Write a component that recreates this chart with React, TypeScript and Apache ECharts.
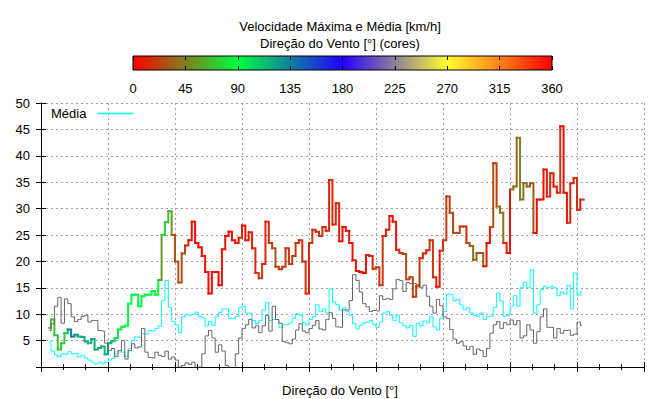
import React, { useEffect, useRef } from "react";
import * as echarts from "echarts";

const FONT = "'Liberation Sans', Arial, sans-serif";

const TITLE = "Velocidade Máxima e Média [km/h]";
const SUBTITLE = "Direção do Vento [°] (cores)";
const BOTTOM_TITLE = "Direção do Vento [°]";
const MEAN_NAME = "Média";

// sampling: minutes from start of the x range
const START_MIN = 7.5;
const STEP_MIN = 3;

const maxSpeed = [
  7.4, 9.0, 6.0, 3.3, 4.5, 6.4, 7.1, 5.8, 6.1, 5.8,
  5.7, 4.9, 4.5, 5.3, 3.3, 3.6, 3.9, 2.4, 4.5, 4.9,
  5.5, 7.1, 7.6, 7.8, 12.0, 13.7, 13.7, 11.5, 13.4, 13.7,
  13.7, 14.4, 13.7, 16.5, 25.0, 27.4, 29.5, 25.0, 20.0, 16.0,
  21.5, 23.0, 24.0, 27.5, 23.5, 22.7, 21.0, 18.0, 13.9, 18.0,
  18.0, 15.5, 22.3, 24.8, 25.6, 24.0, 23.5, 24.5, 26.8, 24.0,
  25.5, 22.5, 17.8, 16.8, 19.5, 27.5, 23.5, 22.5, 19.0, 18.5,
  19.0, 22.5, 19.5, 21.0, 23.5, 24.0, 20.0, 13.9, 23.5, 26.0,
  25.6, 24.8, 26.5, 25.8, 35.4, 27.0, 31.0, 23.8, 26.5, 25.8,
  23.5, 20.2, 18.2, 18.0, 17.8, 21.2, 21.0, 18.6, 18.9, 15.5,
  24.8, 26.0, 28.6, 27.5, 22.2, 21.6, 21.4, 16.6, 17.0, 13.3,
  15.3, 20.6, 21.5, 22.1, 24.0, 17.0, 15.2, 22.0, 24.0, 32.3,
  29.2, 25.4, 25.4, 26.6, 26.6, 23.5, 22.9, 20.3, 21.6, 21.6,
  19.1, 23.5, 26.5, 38.6, 30.4, 29.2, 23.5, 21.6, 33.6, 34.2,
  43.4, 31.7, 34.8, 34.2, 34.8, 25.4, 31.7, 31.7, 37.4, 32.3,
  36.7, 34.2, 33.0, 45.6, 33.0, 27.3, 34.8, 35.8, 29.8, 31.7,
];

const maxDir = [
  66, 68, 70, 72, 72, 110, 135, 135, 125, 118,
  118, 120, 115, 118, 120, 118, 115, 118, 120, 112,
  100, 95, 92, 90, 90, 91, 89, 90, 92, 90,
  88, 90, 91, 55, 75, 70, 55, 30, 28, 28,
  25, 10, 3, 2, 0, 2, 5, 3, 2, 4,
  3, 5, 6, 4, 2, 8, 10, 12, 5, 8,
  10, 15, 18, 20, 15, 12, 22, 30, 25, 22,
  20, 18, 22, 20, 18, 15, 14, 12, 18, 20,
  15, 18, 15, 12, 14, 12, 10, 6, 4, 3,
  5, 8, 2, 5, 3, 10, 12, 15, 18, 20,
  12, 10, 8, 6, 15, 22, 25, 28, 25, 22,
  20, 15, 12, 18, 20, 15, 5, 18, 22, 20,
  25, 30, 28, 15, 12, 30, 38, 35, 30, 32,
  8, 5, 28, 20, 40, 40, 10, 5, 38, 35,
  45, 40, 38, 35, 30, 5, 3, 5, 10, 15,
  8, 12, 18, 5, 8, 15, 12, 18, 10, 15,
];

const meanSpeed = [
  4.8, 3.0, 2.3, 1.9, 2.5, 2.4, 2.9, 2.5, 2.6, 1.9,
  2.2, 1.7, 1.3, 0.9, 0.6, 0.9, 0.6, 0.9, 1.3, 1.6,
  2.5, 3.1, 2.8, 2.0, 3.5, 5.0, 5.7, 5.6, 6.3, 6.2,
  6.9, 6.8, 7.3, 7.8, 12.6, 16.4, 11.3, 8.6, 8.0, 6.5,
  9.5, 10.0, 9.8, 10.0, 10.4, 9.6, 9.3, 7.8, 8.6, 7.9,
  9.5, 10.3, 11.0, 11.0, 9.2, 9.2, 9.6, 11.3, 11.5, 10.2,
  10.1, 8.8, 8.2, 8.8, 10.8, 12.2, 8.8, 9.0, 9.0, 7.5,
  8.0, 8.0, 8.3, 9.2, 10.1, 9.8, 8.4, 8.0, 9.0, 9.5,
  11.8, 10.5, 11.0, 10.2, 14.8, 12.3, 11.8, 10.8, 11.2, 10.5,
  9.8, 8.2, 7.2, 7.9, 8.3, 8.5, 8.8, 8.0, 7.5, 8.5,
  10.2, 10.5, 9.8, 8.8, 9.8, 8.4, 7.8, 7.4, 7.9, 5.8,
  8.3, 7.8, 8.7, 8.4, 9.5, 7.6, 7.0, 9.2, 10.5, 13.8,
  13.7, 12.6, 12.8, 11.8, 10.9, 11.2, 10.2, 9.8, 9.6, 10.2,
  9.0, 9.6, 9.6, 11.3, 14.0, 12.5, 9.6, 9.8, 11.5, 13.5,
  11.5, 15.0, 16.0, 15.0, 18.4, 10.2, 11.8, 14.6, 15.3, 15.0,
  15.3, 15.0, 13.5, 14.2, 13.8, 15.5, 11.0, 17.8, 13.6, 14.2,
];

const grayLine = [
  6.9, 8.2, 11.5, 13.2, 8.3, 12.9, 12.0, 9.5, 8.6, 9.0,
  9.6, 9.8, 8.5, 8.8, 8.8, 6.9, 6.8, 4.5, 3.1, 3.5,
  2.0, 3.1, 5.0, 1.5, 3.1, 4.4, 3.6, 3.8, 7.3, 2.8,
  1.8, 1.7, 2.8, 2.2, 2.0, 3.0, 1.5, 1.9, 1.3, 0.0,
  0.3, 0.8, 0.5, 0.9, -0.3, 0.0, 2.5, 5.9, 6.9, 5.5,
  2.8, 4.2, 3.0, 0.3, -0.6, -0.3, 2.5, 5.5, 7.3, 8.0,
  9.0, 7.4, 7.8, 6.5, 7.8, 9.8, 6.8, 11.5, 9.0, 8.3,
  4.8, 4.6, 4.4, 5.3, 7.0, 8.2, 6.8, 6.5, 7.3, 7.9,
  8.8, 7.2, 7.0, 9.0, 10.3, 9.2, 7.6, 7.5, 10.8, 10.8,
  12.6, 17.5, 16.4, 14.2, 12.0, 11.4, 10.5, 10.7, 10.6, 13.5,
  12.8, 13.0, 12.8, 14.8, 16.6, 16.4, 14.3, 16.0, 15.8, 15.8,
  15.6, 15.0, 15.5, 13.4, 11.5, 10.2, 12.8, 11.6, 9.5, 9.2,
  7.1, 5.3, 4.5, 4.8, 4.0, 3.3, 3.9, 2.4, 3.4, 3.1,
  2.0, 3.5, 6.4, 8.0, 8.6, 7.3, 8.4, 8.0, 8.9, 8.0,
  8.8, 5.5, 5.9, 8.0, 7.0, 4.5, 6.7, 9.5, 11.0, 7.5,
  7.5, 5.5, 7.3, 6.4, 6.9, 7.0, 6.0, 6.2, 8.5, 7.9,
];

// direction palette (0 → 360 degrees)
const dirPalette = ["#ff0000", "#00ff40", "#2000ff", "#ffff30", "#ff0000"];
const DIR_MIN = 0;
const DIR_MAX = 360;
const DIR_STEP = 45;

const X_MIN = 0;
const X_MAX = 540;
const X_STEP = 60;

const Y_MIN = 0;
const Y_MAX = 50;
const Y_STEP = 5;

const MEAN_COLOR = "#00ffff";
const GRAY_COLOR = "#646464";

const times = maxSpeed.map((_, i) => START_MIN + i * STEP_MIN);

function buildOption(): any {
  const txt = { color: "#000", fontFamily: FONT, fontSize: 13 };
  const grid = { lineStyle: { color: "#a0a0a0", width: 1, type: [2, 3] } };
  const axisLine = { show: true, lineStyle: { color: "#000", width: 1 } };
  const tick = { show: true, inside: true, length: 5, lineStyle: { color: "#000" } };

  return {
    animation: false,
    backgroundColor: "#fff",
    textStyle: { fontFamily: FONT },
    title: [
      { text: TITLE, left: 340, top: 20 },
      { text: SUBTITLE, left: 340, top: 37 },
      { text: BOTTOM_TITLE, left: 340, top: 384 },
    ].map((t) => ({
      ...t,
      padding: 0,
      textAlign: "center",
      textVerticalAlign: "top",
      textStyle: { ...txt, fontWeight: "normal" },
    })),
    legend: {
      data: [
        {
          name: MEAN_NAME,
          icon: "rect",
          itemStyle: { color: MEAN_COLOR, borderWidth: 0 },
        },
      ],
      left: 51,
      top: 107,
      padding: 0,
      itemWidth: 36,
      itemHeight: 1.5,
      align: "right",
      selectedMode: false,
      itemStyle: { color: MEAN_COLOR, borderWidth: 0 },
      textStyle: { ...txt, padding: [0, 6, 0, 0] },
    },
    grid: [
      { left: 41, top: 103, width: 603, height: 264, outerBoundsMode: "none" },
      { left: 133, top: 56, width: 419, height: 14, outerBoundsMode: "none" },
    ],
    visualMap: {
      type: "continuous",
      show: false,
      min: DIR_MIN,
      max: DIR_MAX,
      dimension: 2,
      seriesIndex: 0,
      inRange: { color: dirPalette },
    },
    xAxis: [
      {
        type: "value", gridIndex: 0, position: "bottom", min: X_MIN, max: X_MAX, interval: X_STEP,
        axisLine, axisTick: tick, minorTick: { show: true, splitNumber: 3, length: 3, lineStyle: { color: "#000" } },
        axisLabel: { show: false }, splitLine: { show: true, ...grid },
      },
      {
        type: "value", gridIndex: 0, position: "top", min: X_MIN, max: X_MAX, interval: X_STEP,
        axisLine, axisTick: tick, minorTick: { show: true, splitNumber: 3, length: 3, lineStyle: { color: "#000" } },
        axisLabel: { show: false }, splitLine: { show: false },
      },
      {
        type: "value", gridIndex: 1, position: "bottom", min: DIR_MIN, max: DIR_MAX, interval: DIR_STEP, z: 5,
        axisLine: { show: false }, axisTick: { ...tick, length: 4 },
        axisLabel: { ...txt, margin: 12 }, splitLine: { show: false },
      },
      {
        type: "value", gridIndex: 1, position: "top", min: DIR_MIN, max: DIR_MAX, interval: DIR_STEP, z: 5,
        axisLine: { show: false }, axisTick: { ...tick, length: 4 },
        axisLabel: { show: false }, splitLine: { show: false },
      },
    ],
    yAxis: [
      {
        type: "value", gridIndex: 0, position: "left", min: Y_MIN, max: Y_MAX, interval: Y_STEP,
        axisLine, axisTick: tick,
        axisLabel: { ...txt, margin: 11, formatter: (v: number) => (v === 0 ? "" : String(v)) },
        splitLine: { show: true, ...grid },
      },
      {
        type: "value", gridIndex: 0, position: "right", min: Y_MIN, max: Y_MAX, interval: Y_STEP,
        axisLine, axisTick: tick, axisLabel: { show: false }, splitLine: { show: false },
      },
      { type: "value", gridIndex: 1, min: 0, max: 1, show: false },
    ],
    series: [
      {
        type: "custom",
        name: "Máxima",
        xAxisIndex: 0,
        yAxisIndex: 0,
        z: 3,
        encode: { x: 0, y: 1 },
        data: maxSpeed.map((v, i) => [times[i], v, maxDir[i]]),
        renderItem: (params: any, api: any) => {
          const i = params.dataIndex;
          const n = times.length;
          const p = api.coord([times[i], maxSpeed[i]]);
          const half = (api.coord([times[1], 0])[0] - api.coord([times[0], 0])[0]) / 2;
          const x0 = i === 0 ? p[0] : p[0] - half;
          const x1 = p[0] + half;
          const pts: number[][] = [[x0, p[1]], [x1, p[1]]];
          if (i < n - 1) {
            const q = api.coord([times[i + 1], maxSpeed[i + 1]]);
            pts.push([x1, q[1]]);
          }
          return {
            type: "polyline",
            shape: { points: pts },
            style: { stroke: api.visual("color"), lineWidth: 2, fill: null, lineCap: "square" },
          };
        },
      },
      {
        type: "line",
        name: MEAN_NAME,
        xAxisIndex: 0,
        yAxisIndex: 0,
        step: "middle",
        symbol: "none",
        z: 3,
        color: MEAN_COLOR,
        lineStyle: { color: MEAN_COLOR, width: 1 },
        itemStyle: { color: MEAN_COLOR },
        data: meanSpeed.map((v, i) => [times[i], v]),
      },
      {
        type: "line",
        name: "dir",
        xAxisIndex: 0,
        yAxisIndex: 0,
        step: "middle",
        symbol: "none",
        z: 3,
        color: GRAY_COLOR,
        lineStyle: { color: GRAY_COLOR, width: 1 },
        itemStyle: { color: GRAY_COLOR },
        data: grayLine.map((v, i) => [times[i], v]),
      },
      {
        type: "custom",
        name: "colorbar",
        xAxisIndex: 2,
        yAxisIndex: 2,
        z: 2,
        silent: true,
        data: [[DIR_MIN, DIR_MAX]],
        renderItem: (_params: any, api: any) => {
          const a = api.coord([DIR_MIN, 0]);
          const b = api.coord([DIR_MAX, 1]);
          return {
            type: "rect",
            shape: { x: a[0], y: b[1], width: b[0] - a[0], height: a[1] - b[1] },
            style: {
              fill: new echarts.graphic.LinearGradient(
                0, 0, 1, 0,
                dirPalette.map((c, k) => ({ offset: k / (dirPalette.length - 1), color: c }))
              ),
              stroke: "#000",
              lineWidth: 1,
            },
          };
        },
      },
    ],
  };
}

export default function App() {
  const ref = useRef<HTMLDivElement>(null);
  useEffect(() => {
    if (!ref.current) return;
    const chart = echarts.init(ref.current, null, { renderer: "svg" });
    chart.setOption(buildOption());
    return () => chart.dispose();
  }, []);
  return (
    <div
      ref={ref}
      style={{ position: "fixed", left: 0, top: 0, width: 656, height: 399, background: "#fff" }}
    />
  );
}
